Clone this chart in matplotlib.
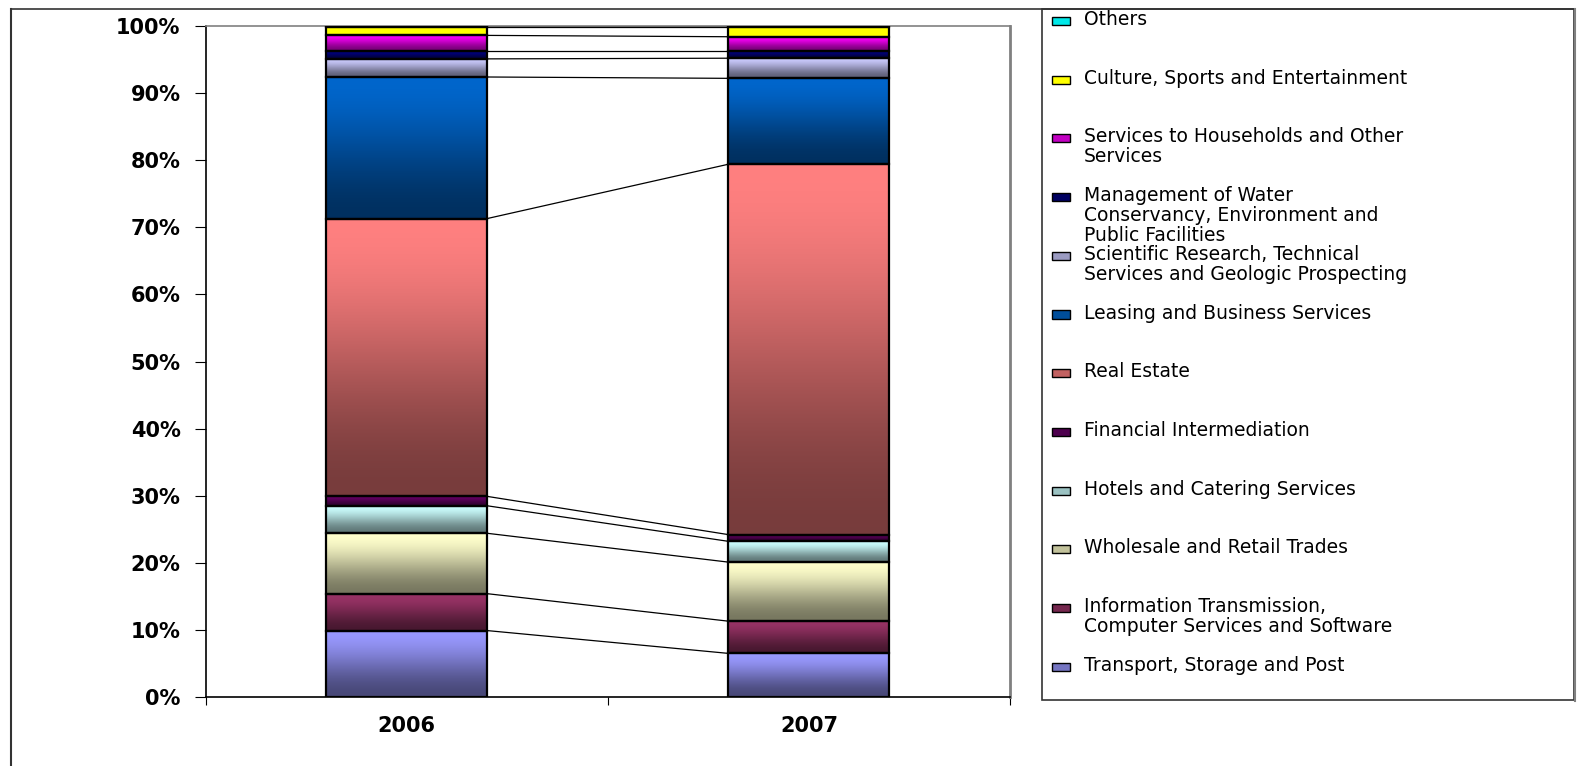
import numpy as np
import matplotlib.pyplot as plt
from matplotlib.patches import Rectangle
from matplotlib.lines import Line2D
from matplotlib.colors import to_rgb

# stacked shares (%), bottom to top
categories = [
    "Transport, Storage and Post",
    "Information Transmission,\nComputer Services and Software",
    "Wholesale and Retail Trades",
    "Hotels and Catering Services",
    "Financial Intermediation",
    "Real Estate",
    "Leasing and Business Services",
    "Scientific Research, Technical\nServices and Geologic Prospecting",
    "Management of Water\nConservancy, Environment and\nPublic Facilities",
    "Services to Households and Other\nServices",
    "Culture, Sports and Entertainment",
    "Others",
]
share_2006 = [9.9, 5.5, 9.0, 4.1, 1.4, 41.4, 21.1, 2.7, 1.1, 2.4, 1.2, 0.2]
share_2007 = [6.5, 4.8, 8.8, 3.1, 1.0, 55.2, 12.8, 3.0, 1.0, 2.2, 1.4, 0.2]
years = ["2006", "2007"]

colors = ["#9999FF", "#993366", "#FFFFCC", "#CCFFFF", "#660066", "#FF8080",
          "#0066CC", "#CCCCFF", "#000080", "#FF00FF", "#FFFF00", "#00FFFF"]
dark = [0.47] * 10 + [1.0, 0.8]

W, H = 1581, 766
fig = plt.figure(figsize=(W / 100, H / 100), dpi=100)
ax = fig.add_axes([205.5 / W, 1 - 697 / H, (1010 - 205.5) / W, (697 - 26) / H])

x = np.array([0.5, 1.5])
bw = 0.4
t = np.linspace(0, 1, 256)
ramp = 3 * t ** 2 - 2 * t ** 3

bottom = np.zeros(2)
for i, cat in enumerate(categories):
    vals = np.array([share_2006[i], share_2007[i]])
    bars = ax.bar(x, vals, width=bw, bottom=bottom, facecolor="none",
                  edgecolor="black", linewidth=1.6, zorder=3)
    c = np.array(to_rgb(colors[i]))
    fac = 1 - (1 - dark[i]) * ramp
    grad = (fac[:, None] * c[None, :])[:, None, :]
    for b in bars:
        ax.imshow(grad, extent=(b.get_x(), b.get_x() + b.get_width(),
                                b.get_y(), b.get_y() + b.get_height()),
                  aspect="auto", origin="upper", interpolation="bilinear", zorder=2)
    bottom = bottom + vals
    ax.plot([x[0] + bw / 2, x[1] - bw / 2], bottom, color="black", lw=0.9, zorder=1)

ax.set_xlim(0, 2)
ax.set_ylim(0, 100)
ax.set_yticks(np.arange(0, 101, 10))
ax.set_yticklabels([f"{v}%" for v in range(0, 101, 10)])
ax.set_xticks([0, 1, 2])
ax.set_xticklabels([])
ax.set_xticks(x, minor=True)
ax.set_xticklabels(years, minor=True)
ax.tick_params(axis="x", which="major", length=6, direction="out", color="black")
ax.tick_params(axis="x", which="minor", length=0, pad=14)
ax.tick_params(axis="y", length=8, pad=10, direction="out", color="black")
for lab in ax.get_yticklabels() + ax.get_xticklabels(minor=True):
    lab.set_fontsize(15)
    lab.set_fontweight("bold")
    lab.set_family("DejaVu Sans")

ax.spines["left"].set_color("black")
ax.spines["bottom"].set_color("black")
ax.spines["left"].set_linewidth(1.2)
ax.spines["bottom"].set_linewidth(1.2)
ax.spines["top"].set_color("#808080")
ax.spines["right"].set_color("#808080")
ax.spines["right"].set_linewidth(2)
ax.spines["top"].set_linewidth(1.2)

# chart area frame (cropped)
fig.add_artist(Line2D([11 / W, 11 / W], [0, 1 - 9 / H], color="#333333", lw=1.5))
fig.add_artist(Line2D([11 / W, 1574 / W], [1 - 9 / H, 1 - 9 / H], color="#333333", lw=1.2))

# legend box
fig.add_artist(Rectangle((1042 / W, 1 - 700 / H), (1574 - 1042) / W, (700 - 9) / H,
                         transform=fig.transFigure, facecolor="white",
                         edgecolor="#333333", lw=1.2, zorder=0))
fig.add_artist(Line2D([1575 / W, 1575 / W], [1 - 701 / H, 1 - 9 / H], color="#808080", lw=1.5))

for k, i in enumerate(range(len(categories) - 1, -1, -1)):
    yc = 21 + 58.7 * k
    c = np.array(to_rgb(colors[i]))
    mid = c * (1 - (1 - dark[i]) * 0.45)
    fig.add_artist(Rectangle((1052 / W, 1 - (yc + 4) / H), 18 / W, 8 / H,
                             transform=fig.transFigure, facecolor=mid,
                             edgecolor="black", lw=1.0))
    fig.text(1084 / W, 1 - (yc - 11) / H, categories[i], fontsize=13.5,
             family="DejaVu Sans", va="top", ha="left", linespacing=1.06)

fig.savefig("out.png", dpi=100)
